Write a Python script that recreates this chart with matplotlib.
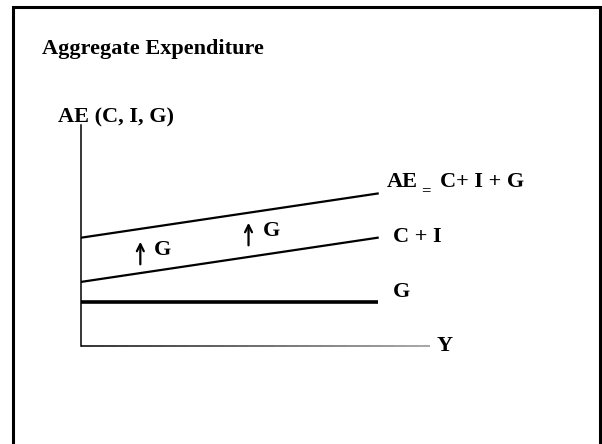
import matplotlib.pyplot as plt
from matplotlib.patches import Rectangle
from matplotlib.collections import LineCollection
import numpy as np

plt.rcParams['font.family'] = ['Liberation Serif', 'DejaVu Serif']
plt.rcParams['font.weight'] = 'bold'

# curve end points (Y, AE) in the model's own units
y_ends = [0, 8.5]
g_level = [2.0, 2.0]
ci_level = [2.9, 4.9]
g_shift = 2.0
ae_level = [v + g_shift for v in ci_level]

# "up G" arrows: x, start, end
arrow_x = [1.7, 4.8]
arrow_from = [3.57, 4.43]
arrow_to = [4.84, 5.70]

title = "Aggregate Expenditure"
ylab = "AE (C, I, G)"
xlab = "Y"

fig = plt.figure(figsize=(6.02, 4.44), dpi=100)
W, H = 602, 444

# slide frame
fig.patches.append(Rectangle((13 / W, -0.05), 587 / W, 1 - 7.5 / H + 0.05,
                             transform=fig.transFigure, fill=False,
                             edgecolor='black', linewidth=2.2))

ax = fig.add_axes([81 / W, (444 - 346) / H, 349 / W, 221 / H])
ax.set_xlim(0, 10)
ax.set_ylim(0, 10)
ax.set_xticks([])
ax.set_yticks([])
for s in ['top', 'right', 'bottom']:
    ax.spines[s].set_visible(False)
ax.spines['left'].set_linewidth(1.1)

# bottom axis fading from dark to light grey
xs = np.linspace(0, 10, 30)
segs = [[(xs[i], 0), (xs[i + 1], 0)] for i in range(len(xs) - 1)]
cols = [str(0.2 + 0.45 * i / (len(segs) - 1)) for i in range(len(segs))]
ax.add_collection(LineCollection(segs, colors=cols, linewidths=1.4, clip_on=False))

ax.plot(y_ends, g_level, color='black', lw=2.6, solid_capstyle='butt')
ax.plot(y_ends, ci_level, color='black', lw=1.6)
ax.plot(y_ends, ae_level, color='black', lw=1.6)

fs = 16
for x0, a, b in zip(arrow_x, arrow_from, arrow_to):
    ax.annotate('', xy=(x0, b), xytext=(x0, a),
                arrowprops=dict(arrowstyle='->,head_length=0.5,head_width=0.25',
                                color='black', lw=1.6))
    ax.text(x0 + 0.4, (a + b) / 2 + 0.12, 'G', fontsize=fs, va='center', ha='left')

ax.text(8.77, 7.42, 'AE', fontsize=fs, va='center', ha='left', clip_on=False)
ax.text(9.75, 7.0, '=', fontsize=12, va='center', ha='left', clip_on=False)
ax.text(10.29, 7.42, 'C+ I + G', fontsize=fs, va='center', ha='left', clip_on=False)
ax.text(8.94, 4.93, 'C + I', fontsize=fs, va='center', ha='left', clip_on=False)
ax.text(8.94, 2.44, 'G', fontsize=fs, va='center', ha='left', clip_on=False)
ax.text(10.2, 0, xlab, fontsize=fs, va='center', ha='left', clip_on=False)

fig.text(42 / W, 1 - 49 / H, title, fontsize=fs, va='center', ha='left')
fig.text(58 / W, 1 - 117 / H, ylab, fontsize=fs, va='center', ha='left')

fig.savefig('out.png', dpi=100)
